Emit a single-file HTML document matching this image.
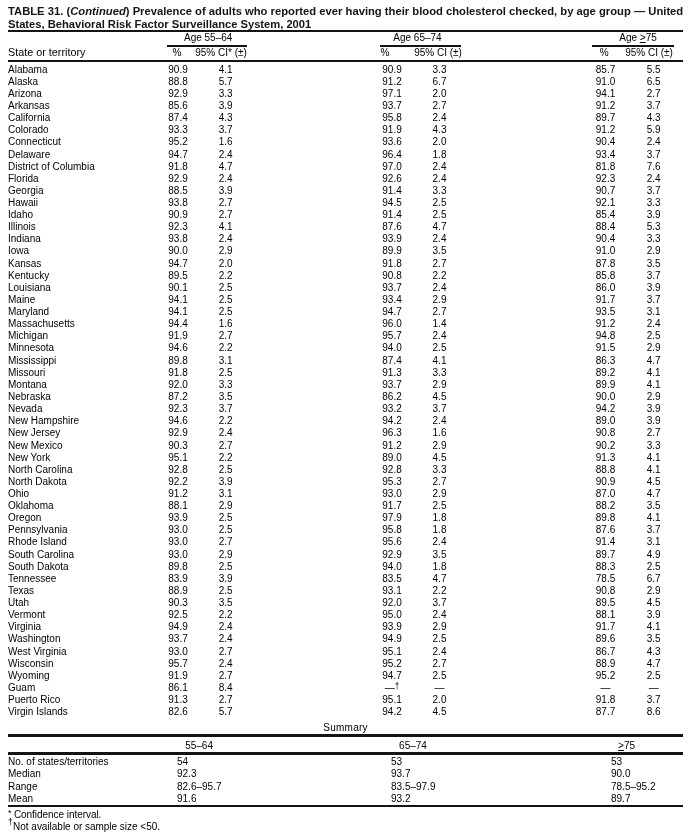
<!DOCTYPE html>
<html><head><meta charset="utf-8"><style>
html,body{margin:0;padding:0;background:#fff;}
body{width:695px;height:837px;position:relative;overflow:hidden;font-family:"Liberation Sans",sans-serif;color:#000;}
.t{position:absolute;white-space:nowrap;line-height:normal;}
body{will-change:transform;}
.r{position:absolute;background:#141414;}
sup{font-size:8.4px;vertical-align:baseline;position:relative;top:-1.6px;}
.fa{font-size:9px;position:relative;top:-1.5px;margin-right:2.4px;letter-spacing:0}
.fd{font-size:8.6px;position:relative;top:-4.6px;margin-right:0.3px;letter-spacing:0}
u{text-decoration-thickness:1px;text-underline-offset:1px;}
</style></head><body>
<div class="t" style="left:8.00px;top:4.83px;font-size:11.24px;font-weight:bold;color:#151515;">TABLE 31. (<i>Continued</i>) Prevalence of adults who reported ever having their blood cholesterol checked, by age group — United</div>
<div class="t" style="left:8.00px;top:17.66px;font-size:11.2px;font-weight:bold;color:#151515;letter-spacing:-0.015px;">States, Behavioral Risk Factor Surveillance System, 2001</div>
<div class="r" style="left:8px;top:30px;width:675px;height:2px"></div>
<div class="t" style="left:148.20px;width:120px;text-align:center;top:31.75px;font-size:10px;font-weight:normal;">Age 55–64</div>
<div class="t" style="left:357.50px;width:120px;text-align:center;top:31.75px;font-size:10px;font-weight:normal;">Age 65–74</div>
<div class="t" style="left:578.00px;width:120px;text-align:center;top:31.75px;font-size:10px;font-weight:normal;">Age <u>&gt;</u>75</div>
<div class="r" style="left:167px;top:45px;width:80px;height:2px"></div>
<div class="r" style="left:380px;top:45px;width:81px;height:2px"></div>
<div class="r" style="left:592px;top:45px;width:82px;height:2px"></div>
<div class="t" style="left:8.00px;top:46.23px;font-size:10.8px;font-weight:normal;">State or territory</div>
<div class="t" style="left:117.00px;width:120px;text-align:center;top:46.95px;font-size:10px;font-weight:normal;">%</div>
<div class="t" style="left:161.00px;width:120px;text-align:center;top:46.95px;font-size:10px;font-weight:normal;">95% CI* (±)</div>
<div class="t" style="left:325.00px;width:120px;text-align:center;top:46.95px;font-size:10px;font-weight:normal;">%</div>
<div class="t" style="left:378.00px;width:120px;text-align:center;top:46.95px;font-size:10px;font-weight:normal;">95% CI (±)</div>
<div class="t" style="left:544.30px;width:120px;text-align:center;top:46.95px;font-size:10px;font-weight:normal;">%</div>
<div class="t" style="left:589.00px;width:120px;text-align:center;top:46.95px;font-size:10px;font-weight:normal;">95% CI (±)</div>
<div class="r" style="left:8px;top:60px;width:675px;height:2px"></div>
<div class="t" style="left:8.00px;top:63.95px;font-size:10px;font-weight:normal;">Alabama</div>
<div class="t" style="left:118.00px;width:120px;text-align:center;top:63.95px;font-size:10px;font-weight:normal;">90.9</div>
<div class="t" style="left:165.70px;width:120px;text-align:center;top:63.95px;font-size:10px;font-weight:normal;">4.1</div>
<div class="t" style="left:332.00px;width:120px;text-align:center;top:63.95px;font-size:10px;font-weight:normal;">90.9</div>
<div class="t" style="left:379.50px;width:120px;text-align:center;top:63.95px;font-size:10px;font-weight:normal;">3.3</div>
<div class="t" style="left:545.50px;width:120px;text-align:center;top:63.95px;font-size:10px;font-weight:normal;">85.7</div>
<div class="t" style="left:593.70px;width:120px;text-align:center;top:63.95px;font-size:10px;font-weight:normal;">5.5</div>
<div class="t" style="left:8.00px;top:75.95px;font-size:10px;font-weight:normal;">Alaska</div>
<div class="t" style="left:118.00px;width:120px;text-align:center;top:75.95px;font-size:10px;font-weight:normal;">88.8</div>
<div class="t" style="left:165.70px;width:120px;text-align:center;top:75.95px;font-size:10px;font-weight:normal;">5.7</div>
<div class="t" style="left:332.00px;width:120px;text-align:center;top:75.95px;font-size:10px;font-weight:normal;">91.2</div>
<div class="t" style="left:379.50px;width:120px;text-align:center;top:75.95px;font-size:10px;font-weight:normal;">6.7</div>
<div class="t" style="left:545.50px;width:120px;text-align:center;top:75.95px;font-size:10px;font-weight:normal;">91.0</div>
<div class="t" style="left:593.70px;width:120px;text-align:center;top:75.95px;font-size:10px;font-weight:normal;">6.5</div>
<div class="t" style="left:8.00px;top:87.95px;font-size:10px;font-weight:normal;">Arizona</div>
<div class="t" style="left:118.00px;width:120px;text-align:center;top:87.95px;font-size:10px;font-weight:normal;">92.9</div>
<div class="t" style="left:165.70px;width:120px;text-align:center;top:87.95px;font-size:10px;font-weight:normal;">3.3</div>
<div class="t" style="left:332.00px;width:120px;text-align:center;top:87.95px;font-size:10px;font-weight:normal;">97.1</div>
<div class="t" style="left:379.50px;width:120px;text-align:center;top:87.95px;font-size:10px;font-weight:normal;">2.0</div>
<div class="t" style="left:545.50px;width:120px;text-align:center;top:87.95px;font-size:10px;font-weight:normal;">94.1</div>
<div class="t" style="left:593.70px;width:120px;text-align:center;top:87.95px;font-size:10px;font-weight:normal;">2.7</div>
<div class="t" style="left:8.00px;top:99.95px;font-size:10px;font-weight:normal;">Arkansas</div>
<div class="t" style="left:118.00px;width:120px;text-align:center;top:99.95px;font-size:10px;font-weight:normal;">85.6</div>
<div class="t" style="left:165.70px;width:120px;text-align:center;top:99.95px;font-size:10px;font-weight:normal;">3.9</div>
<div class="t" style="left:332.00px;width:120px;text-align:center;top:99.95px;font-size:10px;font-weight:normal;">93.7</div>
<div class="t" style="left:379.50px;width:120px;text-align:center;top:99.95px;font-size:10px;font-weight:normal;">2.7</div>
<div class="t" style="left:545.50px;width:120px;text-align:center;top:99.95px;font-size:10px;font-weight:normal;">91.2</div>
<div class="t" style="left:593.70px;width:120px;text-align:center;top:99.95px;font-size:10px;font-weight:normal;">3.7</div>
<div class="t" style="left:8.00px;top:111.95px;font-size:10px;font-weight:normal;">California</div>
<div class="t" style="left:118.00px;width:120px;text-align:center;top:111.95px;font-size:10px;font-weight:normal;">87.4</div>
<div class="t" style="left:165.70px;width:120px;text-align:center;top:111.95px;font-size:10px;font-weight:normal;">4.3</div>
<div class="t" style="left:332.00px;width:120px;text-align:center;top:111.95px;font-size:10px;font-weight:normal;">95.8</div>
<div class="t" style="left:379.50px;width:120px;text-align:center;top:111.95px;font-size:10px;font-weight:normal;">2.4</div>
<div class="t" style="left:545.50px;width:120px;text-align:center;top:111.95px;font-size:10px;font-weight:normal;">89.7</div>
<div class="t" style="left:593.70px;width:120px;text-align:center;top:111.95px;font-size:10px;font-weight:normal;">4.3</div>
<div class="t" style="left:8.00px;top:123.95px;font-size:10px;font-weight:normal;">Colorado</div>
<div class="t" style="left:118.00px;width:120px;text-align:center;top:123.95px;font-size:10px;font-weight:normal;">93.3</div>
<div class="t" style="left:165.70px;width:120px;text-align:center;top:123.95px;font-size:10px;font-weight:normal;">3.7</div>
<div class="t" style="left:332.00px;width:120px;text-align:center;top:123.95px;font-size:10px;font-weight:normal;">91.9</div>
<div class="t" style="left:379.50px;width:120px;text-align:center;top:123.95px;font-size:10px;font-weight:normal;">4.3</div>
<div class="t" style="left:545.50px;width:120px;text-align:center;top:123.95px;font-size:10px;font-weight:normal;">91.2</div>
<div class="t" style="left:593.70px;width:120px;text-align:center;top:123.95px;font-size:10px;font-weight:normal;">5.9</div>
<div class="t" style="left:8.00px;top:135.95px;font-size:10px;font-weight:normal;">Connecticut</div>
<div class="t" style="left:118.00px;width:120px;text-align:center;top:135.95px;font-size:10px;font-weight:normal;">95.2</div>
<div class="t" style="left:165.70px;width:120px;text-align:center;top:135.95px;font-size:10px;font-weight:normal;">1.6</div>
<div class="t" style="left:332.00px;width:120px;text-align:center;top:135.95px;font-size:10px;font-weight:normal;">93.6</div>
<div class="t" style="left:379.50px;width:120px;text-align:center;top:135.95px;font-size:10px;font-weight:normal;">2.0</div>
<div class="t" style="left:545.50px;width:120px;text-align:center;top:135.95px;font-size:10px;font-weight:normal;">90.4</div>
<div class="t" style="left:593.70px;width:120px;text-align:center;top:135.95px;font-size:10px;font-weight:normal;">2.4</div>
<div class="t" style="left:8.00px;top:148.95px;font-size:10px;font-weight:normal;">Delaware</div>
<div class="t" style="left:118.00px;width:120px;text-align:center;top:148.95px;font-size:10px;font-weight:normal;">94.7</div>
<div class="t" style="left:165.70px;width:120px;text-align:center;top:148.95px;font-size:10px;font-weight:normal;">2.4</div>
<div class="t" style="left:332.00px;width:120px;text-align:center;top:148.95px;font-size:10px;font-weight:normal;">96.4</div>
<div class="t" style="left:379.50px;width:120px;text-align:center;top:148.95px;font-size:10px;font-weight:normal;">1.8</div>
<div class="t" style="left:545.50px;width:120px;text-align:center;top:148.95px;font-size:10px;font-weight:normal;">93.4</div>
<div class="t" style="left:593.70px;width:120px;text-align:center;top:148.95px;font-size:10px;font-weight:normal;">3.7</div>
<div class="t" style="left:8.00px;top:160.95px;font-size:10px;font-weight:normal;">District of Columbia</div>
<div class="t" style="left:118.00px;width:120px;text-align:center;top:160.95px;font-size:10px;font-weight:normal;">91.8</div>
<div class="t" style="left:165.70px;width:120px;text-align:center;top:160.95px;font-size:10px;font-weight:normal;">4.7</div>
<div class="t" style="left:332.00px;width:120px;text-align:center;top:160.95px;font-size:10px;font-weight:normal;">97.0</div>
<div class="t" style="left:379.50px;width:120px;text-align:center;top:160.95px;font-size:10px;font-weight:normal;">2.4</div>
<div class="t" style="left:545.50px;width:120px;text-align:center;top:160.95px;font-size:10px;font-weight:normal;">81.8</div>
<div class="t" style="left:593.70px;width:120px;text-align:center;top:160.95px;font-size:10px;font-weight:normal;">7.6</div>
<div class="t" style="left:8.00px;top:172.95px;font-size:10px;font-weight:normal;">Florida</div>
<div class="t" style="left:118.00px;width:120px;text-align:center;top:172.95px;font-size:10px;font-weight:normal;">92.9</div>
<div class="t" style="left:165.70px;width:120px;text-align:center;top:172.95px;font-size:10px;font-weight:normal;">2.4</div>
<div class="t" style="left:332.00px;width:120px;text-align:center;top:172.95px;font-size:10px;font-weight:normal;">92.6</div>
<div class="t" style="left:379.50px;width:120px;text-align:center;top:172.95px;font-size:10px;font-weight:normal;">2.4</div>
<div class="t" style="left:545.50px;width:120px;text-align:center;top:172.95px;font-size:10px;font-weight:normal;">92.3</div>
<div class="t" style="left:593.70px;width:120px;text-align:center;top:172.95px;font-size:10px;font-weight:normal;">2.4</div>
<div class="t" style="left:8.00px;top:184.95px;font-size:10px;font-weight:normal;">Georgia</div>
<div class="t" style="left:118.00px;width:120px;text-align:center;top:184.95px;font-size:10px;font-weight:normal;">88.5</div>
<div class="t" style="left:165.70px;width:120px;text-align:center;top:184.95px;font-size:10px;font-weight:normal;">3.9</div>
<div class="t" style="left:332.00px;width:120px;text-align:center;top:184.95px;font-size:10px;font-weight:normal;">91.4</div>
<div class="t" style="left:379.50px;width:120px;text-align:center;top:184.95px;font-size:10px;font-weight:normal;">3.3</div>
<div class="t" style="left:545.50px;width:120px;text-align:center;top:184.95px;font-size:10px;font-weight:normal;">90.7</div>
<div class="t" style="left:593.70px;width:120px;text-align:center;top:184.95px;font-size:10px;font-weight:normal;">3.7</div>
<div class="t" style="left:8.00px;top:196.95px;font-size:10px;font-weight:normal;">Hawaii</div>
<div class="t" style="left:118.00px;width:120px;text-align:center;top:196.95px;font-size:10px;font-weight:normal;">93.8</div>
<div class="t" style="left:165.70px;width:120px;text-align:center;top:196.95px;font-size:10px;font-weight:normal;">2.7</div>
<div class="t" style="left:332.00px;width:120px;text-align:center;top:196.95px;font-size:10px;font-weight:normal;">94.5</div>
<div class="t" style="left:379.50px;width:120px;text-align:center;top:196.95px;font-size:10px;font-weight:normal;">2.5</div>
<div class="t" style="left:545.50px;width:120px;text-align:center;top:196.95px;font-size:10px;font-weight:normal;">92.1</div>
<div class="t" style="left:593.70px;width:120px;text-align:center;top:196.95px;font-size:10px;font-weight:normal;">3.3</div>
<div class="t" style="left:8.00px;top:208.95px;font-size:10px;font-weight:normal;">Idaho</div>
<div class="t" style="left:118.00px;width:120px;text-align:center;top:208.95px;font-size:10px;font-weight:normal;">90.9</div>
<div class="t" style="left:165.70px;width:120px;text-align:center;top:208.95px;font-size:10px;font-weight:normal;">2.7</div>
<div class="t" style="left:332.00px;width:120px;text-align:center;top:208.95px;font-size:10px;font-weight:normal;">91.4</div>
<div class="t" style="left:379.50px;width:120px;text-align:center;top:208.95px;font-size:10px;font-weight:normal;">2.5</div>
<div class="t" style="left:545.50px;width:120px;text-align:center;top:208.95px;font-size:10px;font-weight:normal;">85.4</div>
<div class="t" style="left:593.70px;width:120px;text-align:center;top:208.95px;font-size:10px;font-weight:normal;">3.9</div>
<div class="t" style="left:8.00px;top:220.95px;font-size:10px;font-weight:normal;">Illinois</div>
<div class="t" style="left:118.00px;width:120px;text-align:center;top:220.95px;font-size:10px;font-weight:normal;">92.3</div>
<div class="t" style="left:165.70px;width:120px;text-align:center;top:220.95px;font-size:10px;font-weight:normal;">4.1</div>
<div class="t" style="left:332.00px;width:120px;text-align:center;top:220.95px;font-size:10px;font-weight:normal;">87.6</div>
<div class="t" style="left:379.50px;width:120px;text-align:center;top:220.95px;font-size:10px;font-weight:normal;">4.7</div>
<div class="t" style="left:545.50px;width:120px;text-align:center;top:220.95px;font-size:10px;font-weight:normal;">88.4</div>
<div class="t" style="left:593.70px;width:120px;text-align:center;top:220.95px;font-size:10px;font-weight:normal;">5.3</div>
<div class="t" style="left:8.00px;top:232.95px;font-size:10px;font-weight:normal;">Indiana</div>
<div class="t" style="left:118.00px;width:120px;text-align:center;top:232.95px;font-size:10px;font-weight:normal;">93.8</div>
<div class="t" style="left:165.70px;width:120px;text-align:center;top:232.95px;font-size:10px;font-weight:normal;">2.4</div>
<div class="t" style="left:332.00px;width:120px;text-align:center;top:232.95px;font-size:10px;font-weight:normal;">93.9</div>
<div class="t" style="left:379.50px;width:120px;text-align:center;top:232.95px;font-size:10px;font-weight:normal;">2.4</div>
<div class="t" style="left:545.50px;width:120px;text-align:center;top:232.95px;font-size:10px;font-weight:normal;">90.4</div>
<div class="t" style="left:593.70px;width:120px;text-align:center;top:232.95px;font-size:10px;font-weight:normal;">3.3</div>
<div class="t" style="left:8.00px;top:244.95px;font-size:10px;font-weight:normal;">Iowa</div>
<div class="t" style="left:118.00px;width:120px;text-align:center;top:244.95px;font-size:10px;font-weight:normal;">90.0</div>
<div class="t" style="left:165.70px;width:120px;text-align:center;top:244.95px;font-size:10px;font-weight:normal;">2.9</div>
<div class="t" style="left:332.00px;width:120px;text-align:center;top:244.95px;font-size:10px;font-weight:normal;">89.9</div>
<div class="t" style="left:379.50px;width:120px;text-align:center;top:244.95px;font-size:10px;font-weight:normal;">3.5</div>
<div class="t" style="left:545.50px;width:120px;text-align:center;top:244.95px;font-size:10px;font-weight:normal;">91.0</div>
<div class="t" style="left:593.70px;width:120px;text-align:center;top:244.95px;font-size:10px;font-weight:normal;">2.9</div>
<div class="t" style="left:8.00px;top:257.95px;font-size:10px;font-weight:normal;">Kansas</div>
<div class="t" style="left:118.00px;width:120px;text-align:center;top:257.95px;font-size:10px;font-weight:normal;">94.7</div>
<div class="t" style="left:165.70px;width:120px;text-align:center;top:257.95px;font-size:10px;font-weight:normal;">2.0</div>
<div class="t" style="left:332.00px;width:120px;text-align:center;top:257.95px;font-size:10px;font-weight:normal;">91.8</div>
<div class="t" style="left:379.50px;width:120px;text-align:center;top:257.95px;font-size:10px;font-weight:normal;">2.7</div>
<div class="t" style="left:545.50px;width:120px;text-align:center;top:257.95px;font-size:10px;font-weight:normal;">87.8</div>
<div class="t" style="left:593.70px;width:120px;text-align:center;top:257.95px;font-size:10px;font-weight:normal;">3.5</div>
<div class="t" style="left:8.00px;top:269.95px;font-size:10px;font-weight:normal;">Kentucky</div>
<div class="t" style="left:118.00px;width:120px;text-align:center;top:269.95px;font-size:10px;font-weight:normal;">89.5</div>
<div class="t" style="left:165.70px;width:120px;text-align:center;top:269.95px;font-size:10px;font-weight:normal;">2.2</div>
<div class="t" style="left:332.00px;width:120px;text-align:center;top:269.95px;font-size:10px;font-weight:normal;">90.8</div>
<div class="t" style="left:379.50px;width:120px;text-align:center;top:269.95px;font-size:10px;font-weight:normal;">2.2</div>
<div class="t" style="left:545.50px;width:120px;text-align:center;top:269.95px;font-size:10px;font-weight:normal;">85.8</div>
<div class="t" style="left:593.70px;width:120px;text-align:center;top:269.95px;font-size:10px;font-weight:normal;">3.7</div>
<div class="t" style="left:8.00px;top:281.95px;font-size:10px;font-weight:normal;">Louisiana</div>
<div class="t" style="left:118.00px;width:120px;text-align:center;top:281.95px;font-size:10px;font-weight:normal;">90.1</div>
<div class="t" style="left:165.70px;width:120px;text-align:center;top:281.95px;font-size:10px;font-weight:normal;">2.5</div>
<div class="t" style="left:332.00px;width:120px;text-align:center;top:281.95px;font-size:10px;font-weight:normal;">93.7</div>
<div class="t" style="left:379.50px;width:120px;text-align:center;top:281.95px;font-size:10px;font-weight:normal;">2.4</div>
<div class="t" style="left:545.50px;width:120px;text-align:center;top:281.95px;font-size:10px;font-weight:normal;">86.0</div>
<div class="t" style="left:593.70px;width:120px;text-align:center;top:281.95px;font-size:10px;font-weight:normal;">3.9</div>
<div class="t" style="left:8.00px;top:293.95px;font-size:10px;font-weight:normal;">Maine</div>
<div class="t" style="left:118.00px;width:120px;text-align:center;top:293.95px;font-size:10px;font-weight:normal;">94.1</div>
<div class="t" style="left:165.70px;width:120px;text-align:center;top:293.95px;font-size:10px;font-weight:normal;">2.5</div>
<div class="t" style="left:332.00px;width:120px;text-align:center;top:293.95px;font-size:10px;font-weight:normal;">93.4</div>
<div class="t" style="left:379.50px;width:120px;text-align:center;top:293.95px;font-size:10px;font-weight:normal;">2.9</div>
<div class="t" style="left:545.50px;width:120px;text-align:center;top:293.95px;font-size:10px;font-weight:normal;">91.7</div>
<div class="t" style="left:593.70px;width:120px;text-align:center;top:293.95px;font-size:10px;font-weight:normal;">3.7</div>
<div class="t" style="left:8.00px;top:305.95px;font-size:10px;font-weight:normal;">Maryland</div>
<div class="t" style="left:118.00px;width:120px;text-align:center;top:305.95px;font-size:10px;font-weight:normal;">94.1</div>
<div class="t" style="left:165.70px;width:120px;text-align:center;top:305.95px;font-size:10px;font-weight:normal;">2.5</div>
<div class="t" style="left:332.00px;width:120px;text-align:center;top:305.95px;font-size:10px;font-weight:normal;">94.7</div>
<div class="t" style="left:379.50px;width:120px;text-align:center;top:305.95px;font-size:10px;font-weight:normal;">2.7</div>
<div class="t" style="left:545.50px;width:120px;text-align:center;top:305.95px;font-size:10px;font-weight:normal;">93.5</div>
<div class="t" style="left:593.70px;width:120px;text-align:center;top:305.95px;font-size:10px;font-weight:normal;">3.1</div>
<div class="t" style="left:8.00px;top:317.95px;font-size:10px;font-weight:normal;">Massachusetts</div>
<div class="t" style="left:118.00px;width:120px;text-align:center;top:317.95px;font-size:10px;font-weight:normal;">94.4</div>
<div class="t" style="left:165.70px;width:120px;text-align:center;top:317.95px;font-size:10px;font-weight:normal;">1.6</div>
<div class="t" style="left:332.00px;width:120px;text-align:center;top:317.95px;font-size:10px;font-weight:normal;">96.0</div>
<div class="t" style="left:379.50px;width:120px;text-align:center;top:317.95px;font-size:10px;font-weight:normal;">1.4</div>
<div class="t" style="left:545.50px;width:120px;text-align:center;top:317.95px;font-size:10px;font-weight:normal;">91.2</div>
<div class="t" style="left:593.70px;width:120px;text-align:center;top:317.95px;font-size:10px;font-weight:normal;">2.4</div>
<div class="t" style="left:8.00px;top:329.95px;font-size:10px;font-weight:normal;">Michigan</div>
<div class="t" style="left:118.00px;width:120px;text-align:center;top:329.95px;font-size:10px;font-weight:normal;">91.9</div>
<div class="t" style="left:165.70px;width:120px;text-align:center;top:329.95px;font-size:10px;font-weight:normal;">2.7</div>
<div class="t" style="left:332.00px;width:120px;text-align:center;top:329.95px;font-size:10px;font-weight:normal;">95.7</div>
<div class="t" style="left:379.50px;width:120px;text-align:center;top:329.95px;font-size:10px;font-weight:normal;">2.4</div>
<div class="t" style="left:545.50px;width:120px;text-align:center;top:329.95px;font-size:10px;font-weight:normal;">94.8</div>
<div class="t" style="left:593.70px;width:120px;text-align:center;top:329.95px;font-size:10px;font-weight:normal;">2.5</div>
<div class="t" style="left:8.00px;top:341.95px;font-size:10px;font-weight:normal;">Minnesota</div>
<div class="t" style="left:118.00px;width:120px;text-align:center;top:341.95px;font-size:10px;font-weight:normal;">94.6</div>
<div class="t" style="left:165.70px;width:120px;text-align:center;top:341.95px;font-size:10px;font-weight:normal;">2.2</div>
<div class="t" style="left:332.00px;width:120px;text-align:center;top:341.95px;font-size:10px;font-weight:normal;">94.0</div>
<div class="t" style="left:379.50px;width:120px;text-align:center;top:341.95px;font-size:10px;font-weight:normal;">2.5</div>
<div class="t" style="left:545.50px;width:120px;text-align:center;top:341.95px;font-size:10px;font-weight:normal;">91.5</div>
<div class="t" style="left:593.70px;width:120px;text-align:center;top:341.95px;font-size:10px;font-weight:normal;">2.9</div>
<div class="t" style="left:8.00px;top:354.95px;font-size:10px;font-weight:normal;">Mississippi</div>
<div class="t" style="left:118.00px;width:120px;text-align:center;top:354.95px;font-size:10px;font-weight:normal;">89.8</div>
<div class="t" style="left:165.70px;width:120px;text-align:center;top:354.95px;font-size:10px;font-weight:normal;">3.1</div>
<div class="t" style="left:332.00px;width:120px;text-align:center;top:354.95px;font-size:10px;font-weight:normal;">87.4</div>
<div class="t" style="left:379.50px;width:120px;text-align:center;top:354.95px;font-size:10px;font-weight:normal;">4.1</div>
<div class="t" style="left:545.50px;width:120px;text-align:center;top:354.95px;font-size:10px;font-weight:normal;">86.3</div>
<div class="t" style="left:593.70px;width:120px;text-align:center;top:354.95px;font-size:10px;font-weight:normal;">4.7</div>
<div class="t" style="left:8.00px;top:366.95px;font-size:10px;font-weight:normal;">Missouri</div>
<div class="t" style="left:118.00px;width:120px;text-align:center;top:366.95px;font-size:10px;font-weight:normal;">91.8</div>
<div class="t" style="left:165.70px;width:120px;text-align:center;top:366.95px;font-size:10px;font-weight:normal;">2.5</div>
<div class="t" style="left:332.00px;width:120px;text-align:center;top:366.95px;font-size:10px;font-weight:normal;">91.3</div>
<div class="t" style="left:379.50px;width:120px;text-align:center;top:366.95px;font-size:10px;font-weight:normal;">3.3</div>
<div class="t" style="left:545.50px;width:120px;text-align:center;top:366.95px;font-size:10px;font-weight:normal;">89.2</div>
<div class="t" style="left:593.70px;width:120px;text-align:center;top:366.95px;font-size:10px;font-weight:normal;">4.1</div>
<div class="t" style="left:8.00px;top:378.95px;font-size:10px;font-weight:normal;">Montana</div>
<div class="t" style="left:118.00px;width:120px;text-align:center;top:378.95px;font-size:10px;font-weight:normal;">92.0</div>
<div class="t" style="left:165.70px;width:120px;text-align:center;top:378.95px;font-size:10px;font-weight:normal;">3.3</div>
<div class="t" style="left:332.00px;width:120px;text-align:center;top:378.95px;font-size:10px;font-weight:normal;">93.7</div>
<div class="t" style="left:379.50px;width:120px;text-align:center;top:378.95px;font-size:10px;font-weight:normal;">2.9</div>
<div class="t" style="left:545.50px;width:120px;text-align:center;top:378.95px;font-size:10px;font-weight:normal;">89.9</div>
<div class="t" style="left:593.70px;width:120px;text-align:center;top:378.95px;font-size:10px;font-weight:normal;">4.1</div>
<div class="t" style="left:8.00px;top:390.95px;font-size:10px;font-weight:normal;">Nebraska</div>
<div class="t" style="left:118.00px;width:120px;text-align:center;top:390.95px;font-size:10px;font-weight:normal;">87.2</div>
<div class="t" style="left:165.70px;width:120px;text-align:center;top:390.95px;font-size:10px;font-weight:normal;">3.5</div>
<div class="t" style="left:332.00px;width:120px;text-align:center;top:390.95px;font-size:10px;font-weight:normal;">86.2</div>
<div class="t" style="left:379.50px;width:120px;text-align:center;top:390.95px;font-size:10px;font-weight:normal;">4.5</div>
<div class="t" style="left:545.50px;width:120px;text-align:center;top:390.95px;font-size:10px;font-weight:normal;">90.0</div>
<div class="t" style="left:593.70px;width:120px;text-align:center;top:390.95px;font-size:10px;font-weight:normal;">2.9</div>
<div class="t" style="left:8.00px;top:402.95px;font-size:10px;font-weight:normal;">Nevada</div>
<div class="t" style="left:118.00px;width:120px;text-align:center;top:402.95px;font-size:10px;font-weight:normal;">92.3</div>
<div class="t" style="left:165.70px;width:120px;text-align:center;top:402.95px;font-size:10px;font-weight:normal;">3.7</div>
<div class="t" style="left:332.00px;width:120px;text-align:center;top:402.95px;font-size:10px;font-weight:normal;">93.2</div>
<div class="t" style="left:379.50px;width:120px;text-align:center;top:402.95px;font-size:10px;font-weight:normal;">3.7</div>
<div class="t" style="left:545.50px;width:120px;text-align:center;top:402.95px;font-size:10px;font-weight:normal;">94.2</div>
<div class="t" style="left:593.70px;width:120px;text-align:center;top:402.95px;font-size:10px;font-weight:normal;">3.9</div>
<div class="t" style="left:8.00px;top:414.95px;font-size:10px;font-weight:normal;">New Hampshire</div>
<div class="t" style="left:118.00px;width:120px;text-align:center;top:414.95px;font-size:10px;font-weight:normal;">94.6</div>
<div class="t" style="left:165.70px;width:120px;text-align:center;top:414.95px;font-size:10px;font-weight:normal;">2.2</div>
<div class="t" style="left:332.00px;width:120px;text-align:center;top:414.95px;font-size:10px;font-weight:normal;">94.2</div>
<div class="t" style="left:379.50px;width:120px;text-align:center;top:414.95px;font-size:10px;font-weight:normal;">2.4</div>
<div class="t" style="left:545.50px;width:120px;text-align:center;top:414.95px;font-size:10px;font-weight:normal;">89.0</div>
<div class="t" style="left:593.70px;width:120px;text-align:center;top:414.95px;font-size:10px;font-weight:normal;">3.9</div>
<div class="t" style="left:8.00px;top:426.95px;font-size:10px;font-weight:normal;">New Jersey</div>
<div class="t" style="left:118.00px;width:120px;text-align:center;top:426.95px;font-size:10px;font-weight:normal;">92.9</div>
<div class="t" style="left:165.70px;width:120px;text-align:center;top:426.95px;font-size:10px;font-weight:normal;">2.4</div>
<div class="t" style="left:332.00px;width:120px;text-align:center;top:426.95px;font-size:10px;font-weight:normal;">96.3</div>
<div class="t" style="left:379.50px;width:120px;text-align:center;top:426.95px;font-size:10px;font-weight:normal;">1.6</div>
<div class="t" style="left:545.50px;width:120px;text-align:center;top:426.95px;font-size:10px;font-weight:normal;">90.8</div>
<div class="t" style="left:593.70px;width:120px;text-align:center;top:426.95px;font-size:10px;font-weight:normal;">2.7</div>
<div class="t" style="left:8.00px;top:439.95px;font-size:10px;font-weight:normal;">New Mexico</div>
<div class="t" style="left:118.00px;width:120px;text-align:center;top:439.95px;font-size:10px;font-weight:normal;">90.3</div>
<div class="t" style="left:165.70px;width:120px;text-align:center;top:439.95px;font-size:10px;font-weight:normal;">2.7</div>
<div class="t" style="left:332.00px;width:120px;text-align:center;top:439.95px;font-size:10px;font-weight:normal;">91.2</div>
<div class="t" style="left:379.50px;width:120px;text-align:center;top:439.95px;font-size:10px;font-weight:normal;">2.9</div>
<div class="t" style="left:545.50px;width:120px;text-align:center;top:439.95px;font-size:10px;font-weight:normal;">90.2</div>
<div class="t" style="left:593.70px;width:120px;text-align:center;top:439.95px;font-size:10px;font-weight:normal;">3.3</div>
<div class="t" style="left:8.00px;top:451.95px;font-size:10px;font-weight:normal;">New York</div>
<div class="t" style="left:118.00px;width:120px;text-align:center;top:451.95px;font-size:10px;font-weight:normal;">95.1</div>
<div class="t" style="left:165.70px;width:120px;text-align:center;top:451.95px;font-size:10px;font-weight:normal;">2.2</div>
<div class="t" style="left:332.00px;width:120px;text-align:center;top:451.95px;font-size:10px;font-weight:normal;">89.0</div>
<div class="t" style="left:379.50px;width:120px;text-align:center;top:451.95px;font-size:10px;font-weight:normal;">4.5</div>
<div class="t" style="left:545.50px;width:120px;text-align:center;top:451.95px;font-size:10px;font-weight:normal;">91.3</div>
<div class="t" style="left:593.70px;width:120px;text-align:center;top:451.95px;font-size:10px;font-weight:normal;">4.1</div>
<div class="t" style="left:8.00px;top:463.95px;font-size:10px;font-weight:normal;">North Carolina</div>
<div class="t" style="left:118.00px;width:120px;text-align:center;top:463.95px;font-size:10px;font-weight:normal;">92.8</div>
<div class="t" style="left:165.70px;width:120px;text-align:center;top:463.95px;font-size:10px;font-weight:normal;">2.5</div>
<div class="t" style="left:332.00px;width:120px;text-align:center;top:463.95px;font-size:10px;font-weight:normal;">92.8</div>
<div class="t" style="left:379.50px;width:120px;text-align:center;top:463.95px;font-size:10px;font-weight:normal;">3.3</div>
<div class="t" style="left:545.50px;width:120px;text-align:center;top:463.95px;font-size:10px;font-weight:normal;">88.8</div>
<div class="t" style="left:593.70px;width:120px;text-align:center;top:463.95px;font-size:10px;font-weight:normal;">4.1</div>
<div class="t" style="left:8.00px;top:475.95px;font-size:10px;font-weight:normal;">North Dakota</div>
<div class="t" style="left:118.00px;width:120px;text-align:center;top:475.95px;font-size:10px;font-weight:normal;">92.2</div>
<div class="t" style="left:165.70px;width:120px;text-align:center;top:475.95px;font-size:10px;font-weight:normal;">3.9</div>
<div class="t" style="left:332.00px;width:120px;text-align:center;top:475.95px;font-size:10px;font-weight:normal;">95.3</div>
<div class="t" style="left:379.50px;width:120px;text-align:center;top:475.95px;font-size:10px;font-weight:normal;">2.7</div>
<div class="t" style="left:545.50px;width:120px;text-align:center;top:475.95px;font-size:10px;font-weight:normal;">90.9</div>
<div class="t" style="left:593.70px;width:120px;text-align:center;top:475.95px;font-size:10px;font-weight:normal;">4.5</div>
<div class="t" style="left:8.00px;top:487.95px;font-size:10px;font-weight:normal;">Ohio</div>
<div class="t" style="left:118.00px;width:120px;text-align:center;top:487.95px;font-size:10px;font-weight:normal;">91.2</div>
<div class="t" style="left:165.70px;width:120px;text-align:center;top:487.95px;font-size:10px;font-weight:normal;">3.1</div>
<div class="t" style="left:332.00px;width:120px;text-align:center;top:487.95px;font-size:10px;font-weight:normal;">93.0</div>
<div class="t" style="left:379.50px;width:120px;text-align:center;top:487.95px;font-size:10px;font-weight:normal;">2.9</div>
<div class="t" style="left:545.50px;width:120px;text-align:center;top:487.95px;font-size:10px;font-weight:normal;">87.0</div>
<div class="t" style="left:593.70px;width:120px;text-align:center;top:487.95px;font-size:10px;font-weight:normal;">4.7</div>
<div class="t" style="left:8.00px;top:499.95px;font-size:10px;font-weight:normal;">Oklahoma</div>
<div class="t" style="left:118.00px;width:120px;text-align:center;top:499.95px;font-size:10px;font-weight:normal;">88.1</div>
<div class="t" style="left:165.70px;width:120px;text-align:center;top:499.95px;font-size:10px;font-weight:normal;">2.9</div>
<div class="t" style="left:332.00px;width:120px;text-align:center;top:499.95px;font-size:10px;font-weight:normal;">91.7</div>
<div class="t" style="left:379.50px;width:120px;text-align:center;top:499.95px;font-size:10px;font-weight:normal;">2.5</div>
<div class="t" style="left:545.50px;width:120px;text-align:center;top:499.95px;font-size:10px;font-weight:normal;">88.2</div>
<div class="t" style="left:593.70px;width:120px;text-align:center;top:499.95px;font-size:10px;font-weight:normal;">3.5</div>
<div class="t" style="left:8.00px;top:511.95px;font-size:10px;font-weight:normal;">Oregon</div>
<div class="t" style="left:118.00px;width:120px;text-align:center;top:511.95px;font-size:10px;font-weight:normal;">93.9</div>
<div class="t" style="left:165.70px;width:120px;text-align:center;top:511.95px;font-size:10px;font-weight:normal;">2.5</div>
<div class="t" style="left:332.00px;width:120px;text-align:center;top:511.95px;font-size:10px;font-weight:normal;">97.9</div>
<div class="t" style="left:379.50px;width:120px;text-align:center;top:511.95px;font-size:10px;font-weight:normal;">1.8</div>
<div class="t" style="left:545.50px;width:120px;text-align:center;top:511.95px;font-size:10px;font-weight:normal;">89.8</div>
<div class="t" style="left:593.70px;width:120px;text-align:center;top:511.95px;font-size:10px;font-weight:normal;">4.1</div>
<div class="t" style="left:8.00px;top:523.95px;font-size:10px;font-weight:normal;">Pennsylvania</div>
<div class="t" style="left:118.00px;width:120px;text-align:center;top:523.95px;font-size:10px;font-weight:normal;">93.0</div>
<div class="t" style="left:165.70px;width:120px;text-align:center;top:523.95px;font-size:10px;font-weight:normal;">2.5</div>
<div class="t" style="left:332.00px;width:120px;text-align:center;top:523.95px;font-size:10px;font-weight:normal;">95.8</div>
<div class="t" style="left:379.50px;width:120px;text-align:center;top:523.95px;font-size:10px;font-weight:normal;">1.8</div>
<div class="t" style="left:545.50px;width:120px;text-align:center;top:523.95px;font-size:10px;font-weight:normal;">87.6</div>
<div class="t" style="left:593.70px;width:120px;text-align:center;top:523.95px;font-size:10px;font-weight:normal;">3.7</div>
<div class="t" style="left:8.00px;top:535.95px;font-size:10px;font-weight:normal;">Rhode Island</div>
<div class="t" style="left:118.00px;width:120px;text-align:center;top:535.95px;font-size:10px;font-weight:normal;">93.0</div>
<div class="t" style="left:165.70px;width:120px;text-align:center;top:535.95px;font-size:10px;font-weight:normal;">2.7</div>
<div class="t" style="left:332.00px;width:120px;text-align:center;top:535.95px;font-size:10px;font-weight:normal;">95.6</div>
<div class="t" style="left:379.50px;width:120px;text-align:center;top:535.95px;font-size:10px;font-weight:normal;">2.4</div>
<div class="t" style="left:545.50px;width:120px;text-align:center;top:535.95px;font-size:10px;font-weight:normal;">91.4</div>
<div class="t" style="left:593.70px;width:120px;text-align:center;top:535.95px;font-size:10px;font-weight:normal;">3.1</div>
<div class="t" style="left:8.00px;top:548.95px;font-size:10px;font-weight:normal;">South Carolina</div>
<div class="t" style="left:118.00px;width:120px;text-align:center;top:548.95px;font-size:10px;font-weight:normal;">93.0</div>
<div class="t" style="left:165.70px;width:120px;text-align:center;top:548.95px;font-size:10px;font-weight:normal;">2.9</div>
<div class="t" style="left:332.00px;width:120px;text-align:center;top:548.95px;font-size:10px;font-weight:normal;">92.9</div>
<div class="t" style="left:379.50px;width:120px;text-align:center;top:548.95px;font-size:10px;font-weight:normal;">3.5</div>
<div class="t" style="left:545.50px;width:120px;text-align:center;top:548.95px;font-size:10px;font-weight:normal;">89.7</div>
<div class="t" style="left:593.70px;width:120px;text-align:center;top:548.95px;font-size:10px;font-weight:normal;">4.9</div>
<div class="t" style="left:8.00px;top:560.95px;font-size:10px;font-weight:normal;">South Dakota</div>
<div class="t" style="left:118.00px;width:120px;text-align:center;top:560.95px;font-size:10px;font-weight:normal;">89.8</div>
<div class="t" style="left:165.70px;width:120px;text-align:center;top:560.95px;font-size:10px;font-weight:normal;">2.5</div>
<div class="t" style="left:332.00px;width:120px;text-align:center;top:560.95px;font-size:10px;font-weight:normal;">94.0</div>
<div class="t" style="left:379.50px;width:120px;text-align:center;top:560.95px;font-size:10px;font-weight:normal;">1.8</div>
<div class="t" style="left:545.50px;width:120px;text-align:center;top:560.95px;font-size:10px;font-weight:normal;">88.3</div>
<div class="t" style="left:593.70px;width:120px;text-align:center;top:560.95px;font-size:10px;font-weight:normal;">2.5</div>
<div class="t" style="left:8.00px;top:572.95px;font-size:10px;font-weight:normal;">Tennessee</div>
<div class="t" style="left:118.00px;width:120px;text-align:center;top:572.95px;font-size:10px;font-weight:normal;">83.9</div>
<div class="t" style="left:165.70px;width:120px;text-align:center;top:572.95px;font-size:10px;font-weight:normal;">3.9</div>
<div class="t" style="left:332.00px;width:120px;text-align:center;top:572.95px;font-size:10px;font-weight:normal;">83.5</div>
<div class="t" style="left:379.50px;width:120px;text-align:center;top:572.95px;font-size:10px;font-weight:normal;">4.7</div>
<div class="t" style="left:545.50px;width:120px;text-align:center;top:572.95px;font-size:10px;font-weight:normal;">78.5</div>
<div class="t" style="left:593.70px;width:120px;text-align:center;top:572.95px;font-size:10px;font-weight:normal;">6.7</div>
<div class="t" style="left:8.00px;top:584.95px;font-size:10px;font-weight:normal;">Texas</div>
<div class="t" style="left:118.00px;width:120px;text-align:center;top:584.95px;font-size:10px;font-weight:normal;">88.9</div>
<div class="t" style="left:165.70px;width:120px;text-align:center;top:584.95px;font-size:10px;font-weight:normal;">2.5</div>
<div class="t" style="left:332.00px;width:120px;text-align:center;top:584.95px;font-size:10px;font-weight:normal;">93.1</div>
<div class="t" style="left:379.50px;width:120px;text-align:center;top:584.95px;font-size:10px;font-weight:normal;">2.2</div>
<div class="t" style="left:545.50px;width:120px;text-align:center;top:584.95px;font-size:10px;font-weight:normal;">90.8</div>
<div class="t" style="left:593.70px;width:120px;text-align:center;top:584.95px;font-size:10px;font-weight:normal;">2.9</div>
<div class="t" style="left:8.00px;top:596.95px;font-size:10px;font-weight:normal;">Utah</div>
<div class="t" style="left:118.00px;width:120px;text-align:center;top:596.95px;font-size:10px;font-weight:normal;">90.3</div>
<div class="t" style="left:165.70px;width:120px;text-align:center;top:596.95px;font-size:10px;font-weight:normal;">3.5</div>
<div class="t" style="left:332.00px;width:120px;text-align:center;top:596.95px;font-size:10px;font-weight:normal;">92.0</div>
<div class="t" style="left:379.50px;width:120px;text-align:center;top:596.95px;font-size:10px;font-weight:normal;">3.7</div>
<div class="t" style="left:545.50px;width:120px;text-align:center;top:596.95px;font-size:10px;font-weight:normal;">89.5</div>
<div class="t" style="left:593.70px;width:120px;text-align:center;top:596.95px;font-size:10px;font-weight:normal;">4.5</div>
<div class="t" style="left:8.00px;top:608.95px;font-size:10px;font-weight:normal;">Vermont</div>
<div class="t" style="left:118.00px;width:120px;text-align:center;top:608.95px;font-size:10px;font-weight:normal;">92.5</div>
<div class="t" style="left:165.70px;width:120px;text-align:center;top:608.95px;font-size:10px;font-weight:normal;">2.2</div>
<div class="t" style="left:332.00px;width:120px;text-align:center;top:608.95px;font-size:10px;font-weight:normal;">95.0</div>
<div class="t" style="left:379.50px;width:120px;text-align:center;top:608.95px;font-size:10px;font-weight:normal;">2.4</div>
<div class="t" style="left:545.50px;width:120px;text-align:center;top:608.95px;font-size:10px;font-weight:normal;">88.1</div>
<div class="t" style="left:593.70px;width:120px;text-align:center;top:608.95px;font-size:10px;font-weight:normal;">3.9</div>
<div class="t" style="left:8.00px;top:620.95px;font-size:10px;font-weight:normal;">Virginia</div>
<div class="t" style="left:118.00px;width:120px;text-align:center;top:620.95px;font-size:10px;font-weight:normal;">94.9</div>
<div class="t" style="left:165.70px;width:120px;text-align:center;top:620.95px;font-size:10px;font-weight:normal;">2.4</div>
<div class="t" style="left:332.00px;width:120px;text-align:center;top:620.95px;font-size:10px;font-weight:normal;">93.9</div>
<div class="t" style="left:379.50px;width:120px;text-align:center;top:620.95px;font-size:10px;font-weight:normal;">2.9</div>
<div class="t" style="left:545.50px;width:120px;text-align:center;top:620.95px;font-size:10px;font-weight:normal;">91.7</div>
<div class="t" style="left:593.70px;width:120px;text-align:center;top:620.95px;font-size:10px;font-weight:normal;">4.1</div>
<div class="t" style="left:8.00px;top:632.95px;font-size:10px;font-weight:normal;">Washington</div>
<div class="t" style="left:118.00px;width:120px;text-align:center;top:632.95px;font-size:10px;font-weight:normal;">93.7</div>
<div class="t" style="left:165.70px;width:120px;text-align:center;top:632.95px;font-size:10px;font-weight:normal;">2.4</div>
<div class="t" style="left:332.00px;width:120px;text-align:center;top:632.95px;font-size:10px;font-weight:normal;">94.9</div>
<div class="t" style="left:379.50px;width:120px;text-align:center;top:632.95px;font-size:10px;font-weight:normal;">2.5</div>
<div class="t" style="left:545.50px;width:120px;text-align:center;top:632.95px;font-size:10px;font-weight:normal;">89.6</div>
<div class="t" style="left:593.70px;width:120px;text-align:center;top:632.95px;font-size:10px;font-weight:normal;">3.5</div>
<div class="t" style="left:8.00px;top:645.95px;font-size:10px;font-weight:normal;">West Virginia</div>
<div class="t" style="left:118.00px;width:120px;text-align:center;top:645.95px;font-size:10px;font-weight:normal;">93.0</div>
<div class="t" style="left:165.70px;width:120px;text-align:center;top:645.95px;font-size:10px;font-weight:normal;">2.7</div>
<div class="t" style="left:332.00px;width:120px;text-align:center;top:645.95px;font-size:10px;font-weight:normal;">95.1</div>
<div class="t" style="left:379.50px;width:120px;text-align:center;top:645.95px;font-size:10px;font-weight:normal;">2.4</div>
<div class="t" style="left:545.50px;width:120px;text-align:center;top:645.95px;font-size:10px;font-weight:normal;">86.7</div>
<div class="t" style="left:593.70px;width:120px;text-align:center;top:645.95px;font-size:10px;font-weight:normal;">4.3</div>
<div class="t" style="left:8.00px;top:657.95px;font-size:10px;font-weight:normal;">Wisconsin</div>
<div class="t" style="left:118.00px;width:120px;text-align:center;top:657.95px;font-size:10px;font-weight:normal;">95.7</div>
<div class="t" style="left:165.70px;width:120px;text-align:center;top:657.95px;font-size:10px;font-weight:normal;">2.4</div>
<div class="t" style="left:332.00px;width:120px;text-align:center;top:657.95px;font-size:10px;font-weight:normal;">95.2</div>
<div class="t" style="left:379.50px;width:120px;text-align:center;top:657.95px;font-size:10px;font-weight:normal;">2.7</div>
<div class="t" style="left:545.50px;width:120px;text-align:center;top:657.95px;font-size:10px;font-weight:normal;">88.9</div>
<div class="t" style="left:593.70px;width:120px;text-align:center;top:657.95px;font-size:10px;font-weight:normal;">4.7</div>
<div class="t" style="left:8.00px;top:669.95px;font-size:10px;font-weight:normal;">Wyoming</div>
<div class="t" style="left:118.00px;width:120px;text-align:center;top:669.95px;font-size:10px;font-weight:normal;">91.9</div>
<div class="t" style="left:165.70px;width:120px;text-align:center;top:669.95px;font-size:10px;font-weight:normal;">2.7</div>
<div class="t" style="left:332.00px;width:120px;text-align:center;top:669.95px;font-size:10px;font-weight:normal;">94.7</div>
<div class="t" style="left:379.50px;width:120px;text-align:center;top:669.95px;font-size:10px;font-weight:normal;">2.5</div>
<div class="t" style="left:545.50px;width:120px;text-align:center;top:669.95px;font-size:10px;font-weight:normal;">95.2</div>
<div class="t" style="left:593.70px;width:120px;text-align:center;top:669.95px;font-size:10px;font-weight:normal;">2.5</div>
<div class="t" style="left:8.00px;top:681.95px;font-size:10px;font-weight:normal;">Guam</div>
<div class="t" style="left:118.00px;width:120px;text-align:center;top:681.95px;font-size:10px;font-weight:normal;">86.1</div>
<div class="t" style="left:165.70px;width:120px;text-align:center;top:681.95px;font-size:10px;font-weight:normal;">8.4</div>
<div class="t" style="left:332.00px;width:120px;text-align:center;top:681.95px;font-size:10px;font-weight:normal;">—<sup>†</sup></div>
<div class="t" style="left:379.50px;width:120px;text-align:center;top:681.95px;font-size:10px;font-weight:normal;">—</div>
<div class="t" style="left:545.50px;width:120px;text-align:center;top:681.95px;font-size:10px;font-weight:normal;">—</div>
<div class="t" style="left:593.70px;width:120px;text-align:center;top:681.95px;font-size:10px;font-weight:normal;">—</div>
<div class="t" style="left:8.00px;top:693.95px;font-size:10px;font-weight:normal;">Puerto Rico</div>
<div class="t" style="left:118.00px;width:120px;text-align:center;top:693.95px;font-size:10px;font-weight:normal;">91.3</div>
<div class="t" style="left:165.70px;width:120px;text-align:center;top:693.95px;font-size:10px;font-weight:normal;">2.7</div>
<div class="t" style="left:332.00px;width:120px;text-align:center;top:693.95px;font-size:10px;font-weight:normal;">95.1</div>
<div class="t" style="left:379.50px;width:120px;text-align:center;top:693.95px;font-size:10px;font-weight:normal;">2.0</div>
<div class="t" style="left:545.50px;width:120px;text-align:center;top:693.95px;font-size:10px;font-weight:normal;">91.8</div>
<div class="t" style="left:593.70px;width:120px;text-align:center;top:693.95px;font-size:10px;font-weight:normal;">3.7</div>
<div class="t" style="left:8.00px;top:705.95px;font-size:10px;font-weight:normal;">Virgin Islands</div>
<div class="t" style="left:118.00px;width:120px;text-align:center;top:705.95px;font-size:10px;font-weight:normal;">82.6</div>
<div class="t" style="left:165.70px;width:120px;text-align:center;top:705.95px;font-size:10px;font-weight:normal;">5.7</div>
<div class="t" style="left:332.00px;width:120px;text-align:center;top:705.95px;font-size:10px;font-weight:normal;">94.2</div>
<div class="t" style="left:379.50px;width:120px;text-align:center;top:705.95px;font-size:10px;font-weight:normal;">4.5</div>
<div class="t" style="left:545.50px;width:120px;text-align:center;top:705.95px;font-size:10px;font-weight:normal;">87.7</div>
<div class="t" style="left:593.70px;width:120px;text-align:center;top:705.95px;font-size:10px;font-weight:normal;">8.6</div>
<div class="t" style="left:285.60px;width:120px;text-align:center;top:721.95px;font-size:10px;font-weight:normal;letter-spacing:0.25px;">Summary</div>
<div class="r" style="left:8px;top:734px;width:675px;height:3px"></div>
<div class="t" style="left:139.10px;width:120px;text-align:center;top:739.95px;font-size:10px;font-weight:normal;">55–64</div>
<div class="t" style="left:353.00px;width:120px;text-align:center;top:739.95px;font-size:10px;font-weight:normal;">65–74</div>
<div class="t" style="left:566.60px;width:120px;text-align:center;top:739.95px;font-size:10px;font-weight:normal;"><u>&gt;</u>75</div>
<div class="r" style="left:8px;top:752px;width:675px;height:3px"></div>
<div class="t" style="left:8.00px;top:755.95px;font-size:10px;font-weight:normal;">No. of states/territories</div>
<div class="t" style="left:177.00px;top:755.95px;font-size:10px;font-weight:normal;">54</div>
<div class="t" style="left:391.00px;top:755.95px;font-size:10px;font-weight:normal;">53</div>
<div class="t" style="left:611.00px;top:755.95px;font-size:10px;font-weight:normal;">53</div>
<div class="t" style="left:8.00px;top:767.95px;font-size:10px;font-weight:normal;">Median</div>
<div class="t" style="left:177.00px;top:767.95px;font-size:10px;font-weight:normal;">92.3</div>
<div class="t" style="left:391.00px;top:767.95px;font-size:10px;font-weight:normal;">93.7</div>
<div class="t" style="left:611.00px;top:767.95px;font-size:10px;font-weight:normal;">90.0</div>
<div class="t" style="left:8.00px;top:780.95px;font-size:10px;font-weight:normal;">Range</div>
<div class="t" style="left:177.00px;top:780.95px;font-size:10px;font-weight:normal;">82.6–95.7</div>
<div class="t" style="left:391.00px;top:780.95px;font-size:10px;font-weight:normal;">83.5–97.9</div>
<div class="t" style="left:611.00px;top:780.95px;font-size:10px;font-weight:normal;">78.5–95.2</div>
<div class="t" style="left:8.00px;top:792.95px;font-size:10px;font-weight:normal;">Mean</div>
<div class="t" style="left:177.00px;top:792.95px;font-size:10px;font-weight:normal;">91.6</div>
<div class="t" style="left:391.00px;top:792.95px;font-size:10px;font-weight:normal;">93.2</div>
<div class="t" style="left:611.00px;top:792.95px;font-size:10px;font-weight:normal;">89.7</div>
<div class="r" style="left:8px;top:805px;width:675px;height:2px"></div>
<div class="t" style="left:8.00px;top:808.95px;font-size:10px;font-weight:normal;letter-spacing:-0.05px;"><span class="fa">*</span>Confidence interval.</div>
<div class="t" style="left:8.00px;top:820.95px;font-size:10px;font-weight:normal;letter-spacing:-0.02px;"><span class="fd">†</span>Not available or sample size &lt;50.</div>
</body></html>
